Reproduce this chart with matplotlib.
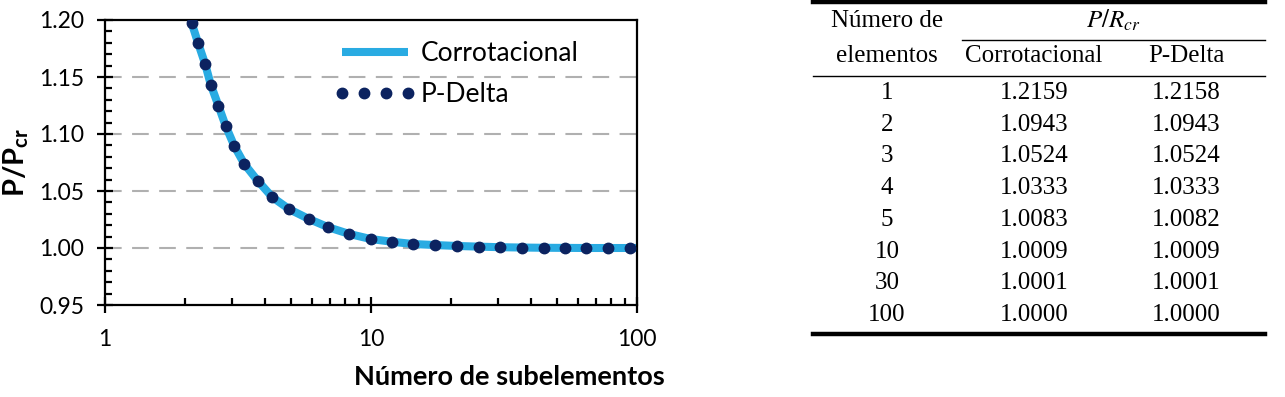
import numpy as np
import matplotlib
matplotlib.use("Agg")
import matplotlib.pyplot as plt
from matplotlib.lines import Line2D
from matplotlib.ticker import MultipleLocator, LogLocator, NullFormatter, FixedLocator

plt.rcParams['font.family'] = ['Lato', 'DejaVu Sans']
plt.rcParams['mathtext.fontset'] = 'custom'
plt.rcParams['mathtext.rm'] = 'Lato'
plt.rcParams['mathtext.bf'] = 'Lato:bold'
plt.rcParams['mathtext.it'] = 'Lato:italic'

# ---- chart data ----
n_sub = [2.12, 2.24, 2.38, 2.50, 2.67, 2.84, 3.06, 3.34, 3.75, 4.26, 4.93, 5.85,
         6.91, 8.29, 9.97, 11.96, 14.4, 17.4, 21.0, 25.4, 30.6, 36.9, 44.6, 53.8,
         64.4, 78.0, 94.1]
pdelta = [1.197, 1.1796, 1.1614, 1.143, 1.1248, 1.1073, 1.0897, 1.0737, 1.059,
          1.0445, 1.034, 1.0254, 1.0182, 1.0123, 1.0079, 1.0055, 1.0035, 1.0026,
          1.0018, 1.0012, 1.0007, 1.0004, 1.0002, 1.0001, 1.0000, 1.0000, 1.0000]
n_line = [2.0] + n_sub + [100.0]
corrot = [1.216] + pdelta + [1.0000]

# ---- table data ----
tab_n = ['1', '2', '3', '4', '5', '10', '30', '100']
tab_corrot = ['1.2159', '1.0943', '1.0524', '1.0333', '1.0083', '1.0009', '1.0001', '1.0000']
tab_pdelta = ['1.2158', '1.0943', '1.0524', '1.0333', '1.0082', '1.0009', '1.0001', '1.0000']

W, H = 1285, 397
fig = plt.figure(figsize=(W / 100, H / 100), dpi=100)

def fx(px):
    return px / W

def fy(py):
    return 1 - py / H

ax = fig.add_axes([fx(105), fy(305), fx(637) - fx(105), fy(20) - fy(305)])
ax.set_xscale('log')
ax.set_xlim(1, 100)
ax.set_ylim(0.95, 1.20)

for v in [1.00, 1.05, 1.10, 1.15]:
    ax.axhline(v, color='#b0b0b0', lw=1.5, dashes=(8, 5), zorder=1)

ax.plot(n_line, corrot, color='#29abe2', lw=5.8, solid_capstyle='butt',
        label='Corrotacional', zorder=2)
ax.plot(n_sub, pdelta, linestyle='none', marker='o', ms=7.5, color='#0c2360',
        label='P-Delta', zorder=3)

for s in ax.spines.values():
    s.set_linewidth(1.6)
    s.set_color('black')

ax.yaxis.set_major_locator(MultipleLocator(0.05))
ax.yaxis.set_minor_locator(MultipleLocator(0.01))
ax.yaxis.set_major_formatter(matplotlib.ticker.FormatStrFormatter('%.2f'))
ax.xaxis.set_major_locator(FixedLocator([1, 10, 100]))
ax.xaxis.set_major_formatter(matplotlib.ticker.FuncFormatter(lambda v, p: '%d' % v))
ax.xaxis.set_minor_locator(LogLocator(base=10, subs=np.arange(2, 10)))
ax.xaxis.set_minor_formatter(NullFormatter())

ax.tick_params(axis='both', which='major', direction='inout', length=12, width=1.6,
               labelsize=16.5, colors='black')
ax.tick_params(axis='y', which='major', pad=9)
ax.tick_params(axis='x', which='major', pad=11)
ax.tick_params(axis='both', which='minor', direction='in', length=5, width=1.6)

ax.set_ylabel(r'$\mathbf{P/P_{cr}}$', fontsize=21, labelpad=6)
fig.text(fx(509), fy(377), 'Número de subelementos', fontsize=19.5, fontweight='bold',
         ha='center', va='center')

leg = ax.legend(loc='upper left', bbox_to_anchor=(0.43, 0.926), frameon=False,
                fontsize=19, handlelength=3.1, handletextpad=0.2, numpoints=4,
                labelspacing=0.6, borderpad=0, borderaxespad=0)

# ---- table ----
serif = ['Liberation Serif', 'DejaVu Serif']
tfs = 18
x0, x1 = 813, 1265
xc = [887, 1040, 1186]
fig.add_artist(Line2D([fx(x0), fx(x1)], [fy(2), fy(2)], color='black', lw=3.2))
fig.add_artist(Line2D([fx(962), fx(x1)], [fy(40), fy(40)], color='black', lw=1.0))
fig.add_artist(Line2D([fx(x0), fx(x1)], [fy(76), fy(76)], color='black', lw=1.0))
fig.add_artist(Line2D([fx(x0), fx(x1)], [fy(334), fy(334)], color='black', lw=3.2))

fig.text(fx(xc[0]), fy(21), 'Número de', family=serif, fontsize=tfs, ha='center', va='center')
fig.text(fx(xc[0]), fy(56), 'elementos', family=serif, fontsize=tfs, ha='center', va='center')
fig.text(fx(1113), fy(20), r'$P/R_{cr}$', fontsize=tfs, ha='center', va='center',
         math_fontfamily='stix')
fig.text(fx(1034), fy(56), 'Corrotacional', family=serif, fontsize=tfs, ha='center', va='center')
fig.text(fx(xc[2]), fy(56), 'P-Delta', family=serif, fontsize=tfs, ha='center', va='center')

row_y0, row_dy = 93, 31.7
for i, (a, b, c) in enumerate(zip(tab_n, tab_corrot, tab_pdelta)):
    y = fy(row_y0 + i * row_dy)
    fig.text(fx(xc[0]), y, a, family=serif, fontsize=tfs, ha='center', va='center')
    fig.text(fx(1034), y, b, family=serif, fontsize=tfs, ha='center', va='center')
    fig.text(fx(xc[2]), y, c, family=serif, fontsize=tfs, ha='center', va='center')

fig.savefig('out.png', dpi=100)
